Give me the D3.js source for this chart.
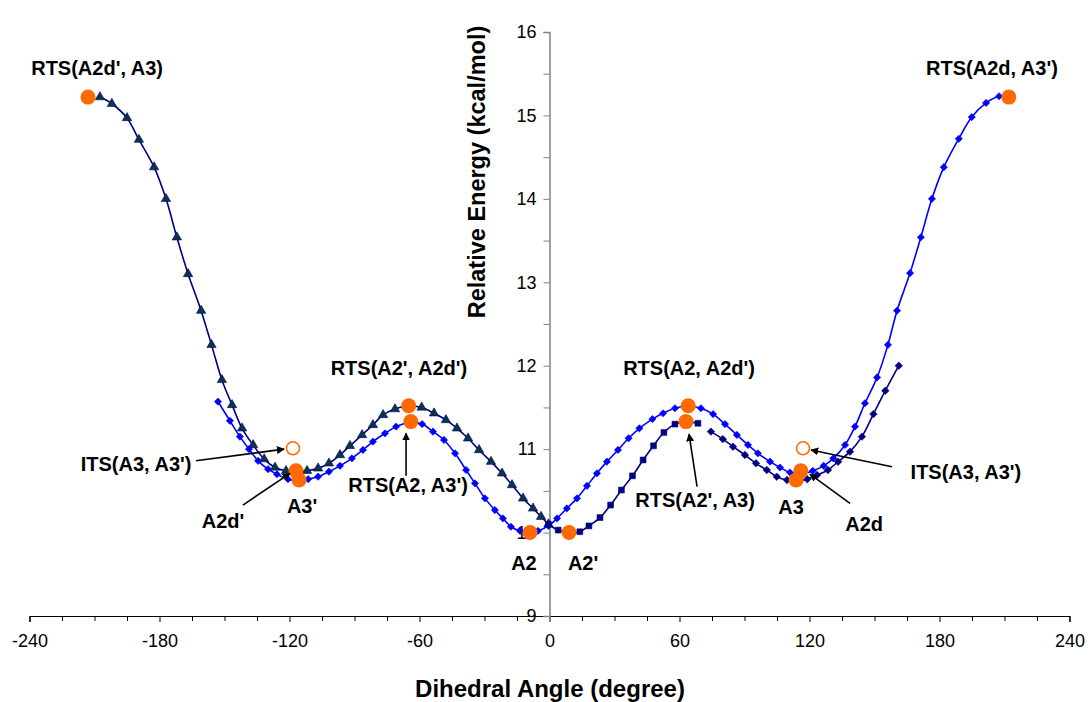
<!DOCTYPE html>
<html>
<head>
<meta charset="utf-8">
<script src="https://cdn.jsdelivr.net/npm/d3@7"></script>
<style>
  html, body { margin: 0; padding: 0; background: #fff; }
  text { font-family: Arial, "Liberation Sans", sans-serif; }
</style>
</head>
<body>
<svg id="chart" width="1090" height="702"></svg>
<script>
// ---------- data ----------
const xTicks = [-240, -180, -120, -60, 0, 60, 120, 180, 240];
const yTicks = [9, 10, 11, 12, 13, 14, 15, 16];

// Navy line, triangle markers (left branch)
const triAngles = [-207.5,-202,-195,-189.5,-182.5,-177,-172,-166.8,-160.8,-156,
  -151.2,-146.5,-141.9,-136.8,-131.7,-126.7,-121.6,-116.5,-111.9,-106.8,
  -101.8,-96.7,-92.1,-86.5,-81.5,-76.8,-71.3,-65.5,-59,-53.3,
  -47.8,-42.7,-37.6,-32.5,-27.0,-21.9,-17.3,-12.2,-7.6,-3.9,-0.5];
const triEnergies = [15.22,15.14,14.97,14.71,14.38,14.0,13.54,13.10,12.66,12.25,
  11.83,11.53,11.25,11.05,10.88,10.78,10.74,10.73,10.74,10.77,
  10.83,10.93,11.04,11.17,11.29,11.41,11.48,11.52,11.50,11.43,
  11.35,11.25,11.13,10.99,10.85,10.71,10.57,10.41,10.29,10.19,10.10];

// Blue line, diamond markers
const blueAngles = [-153,-147.5,-142.9,-138.7,-134.5,-129.9,-125.8,-120.7,-116,-111.4,
  -106.8,-101.8,-96.7,-91.2,-86.1,-81.5,-75.9,-70.8,-64.4,-58.8,
  -53.8,-48.7,-43.6,-38.5,-34.4,-29.8,-25.2,-21.5,-17.8,-13.6,
  -9,-5.3,-0.5,3.5,8,12.7,17.3,21.9,26.5,31.6,
  36.5,41.5,47.5,52.4,57.9,64,69.9,75.5,81,86.5,
  91.6,96.2,101.8,106.4,111,116,121.5,126.5,131,136.4,
  141,145.6,151.2,156.2,160.4,166.4,171.4,176.5,182,188.9,
  194.9,201.5,207.5,211.5];
const blueEnergies = [11.57,11.34,11.15,11.00,10.86,10.76,10.70,10.64,10.62,10.64,
  10.67,10.73,10.80,10.89,10.99,11.09,11.19,11.27,11.32,11.30,
  11.21,11.11,10.95,10.75,10.59,10.41,10.27,10.17,10.07,10.02,
  10.00,10.02,10.08,10.17,10.29,10.41,10.56,10.71,10.85,10.99,
  11.13,11.25,11.36,11.43,11.49,11.52,11.49,11.42,11.30,11.17,
  11.05,10.95,10.85,10.78,10.72,10.70,10.74,10.80,10.89,11.05,
  11.27,11.55,11.86,12.25,12.66,13.11,13.54,14.00,14.38,14.72,
  14.98,15.15,15.23,15.23];

// Navy line, square markers (right, first part)
const sqAngles = [-0.5,4,9,14,18.2,23.3,28.2,33.2,38.3,43.2,48,52.8,57.9,63,68.5];
const sqEnergies = [10.10,10.03,10.00,10.01,10.08,10.18,10.33,10.51,10.68,10.87,11.04,11.20,11.30,11.33,11.31];

// Navy line, diamond markers (right, second part)
const dmAngles = [74.5,80,84.7,90.2,95.3,100.3,104.9,109.6,114.5,119,123.5,128.5,133.2,138.7,144.2,149.5,155,161.2];
const dmEnergies = [11.21,11.12,11.03,10.93,10.83,10.75,10.67,10.63,10.62,10.64,10.69,10.75,10.85,10.97,11.15,11.42,11.70,12.00];

// Stationary points (orange)
const tsAngles = [-213, 212, -65, -64, 64, 63, -9, 9, -115.6, -117, 113.8, 116];
const tsEnergies = [15.22, 15.22, 11.52, 11.33, 11.52, 11.33, 10.0, 10.0, 10.63, 10.74, 10.63, 10.74];
const itsAngles = [-118.4, 117];
const itsEnergies = [11.01, 11.01];

// Labels (text, anchor angle, anchor energy)
const labelTexts = ["RTS(A2d', A3)", "RTS(A2d, A3')", "RTS(A2', A2d')", "RTS(A2, A2d')",
  "ITS(A3, A3')", "A2d'", "A3'", "RTS(A2, A3')", "RTS(A2', A3)", "A3", "A2d", "ITS(A3, A3')", "A2", "A2'"];
const labelAngles = [-208.8, 204.2, -69.5, 64.4, -190.8, -150.7, -114.2, -65.3, 67.2, 111.5, 145.2, 192.2, -11.8, 15.5];
const labelEnergies = [15.57, 15.57, 11.97, 11.97, 10.83, 10.14, 10.32, 10.57, 10.39, 10.31, 10.11, 10.73, 9.64, 9.64];

// Arrows (from -> to), in data units
const arrowFromAngles = [-163.2, -141.5, -66.2, 68.1, 138.7, 158.1];
const arrowFromEnergies = [10.86, 10.33, 10.68, 10.55, 10.35, 10.79];
const arrowToAngles = [-122.5, -119.8, -66.2, 64.4, 120.2, 120.7];
const arrowToEnergies = [11.00, 10.71, 11.19, 11.18, 10.70, 10.99];

// ---------- drawing ----------
const svg = d3.select("#chart");
const x = d3.scaleLinear().domain([-240, 240]).range([29.5, 1069.5]);
const y = d3.scaleLinear().domain([9, 16]).range([616, 32]);

const zip = (a, b) => a.map((v, i) => [v, b[i]]);
const plain = d => String(d);

// Axes
const xAxis = svg.append("g").attr("transform", `translate(0,${y(9)})`)
  .call(d3.axisBottom(x).tickValues(xTicks).tickSize(6).tickPadding(12).tickFormat(plain));
xAxis.select(".domain").attr("stroke", "#000").attr("stroke-width", 1.2);
xAxis.selectAll(".tick line").attr("stroke", "#000");
xAxis.selectAll("text").attr("font-size", 18).attr("fill", "#000");
svg.append("g").attr("transform", `translate(0,${y(9)})`)
  .call(d3.axisBottom(x).tickValues(d3.range(-240, 241, 15).filter(v => v % 60 !== 0)).tickSize(5).tickFormat(""))
  .call(g => g.select(".domain").remove())
  .selectAll(".tick line").attr("stroke", "#000");

const yAxis = svg.append("g").attr("transform", `translate(${x(0)},0)`)
  .call(d3.axisLeft(y).tickValues(yTicks).tickSize(6).tickPadding(7).tickFormat(plain));
yAxis.select(".domain").attr("stroke", "#808080").attr("stroke-width", 1.5);
yAxis.selectAll(".tick line").attr("stroke", "#808080");
yAxis.selectAll("text").attr("font-size", 18).attr("fill", "#000");
svg.append("g").attr("transform", `translate(${x(0)},0)`)
  .call(d3.axisLeft(y).tickValues(d3.range(9.5, 16, 1)).tickSize(6).tickFormat(""))
  .call(g => g.select(".domain").remove())
  .selectAll(".tick line").attr("stroke", "#808080");

// Axis titles
svg.append("text").attr("x", 550).attr("y", 697).attr("text-anchor", "middle")
  .attr("font-size", 24).attr("font-weight", "bold").text("Dihedral Angle (degree)");
svg.append("text").attr("transform", "translate(485,172) rotate(-90)").attr("text-anchor", "middle")
  .attr("font-size", 23.5).attr("font-weight", "bold").text("Relative Energy (kcal/mol)");

// Lines
const line = d3.line().x(d => x(d[0])).y(d => y(d[1])).curve(d3.curveCatmullRom.alpha(0.5));
const series = [
  { pts: zip(triAngles, triEnergies), stroke: "#000080", sym: d3.symbolTriangle, size: 38, fill: "#0c3544", rot: 0 },
  { pts: zip(blueAngles, blueEnergies), stroke: "#0000FF", sym: d3.symbolSquare, size: 26, fill: "#0000FF", rot: 45 },
  { pts: zip(sqAngles, sqEnergies), stroke: "#000080", sym: d3.symbolSquare, size: 34, fill: "#000080", rot: 0 },
  { pts: zip(dmAngles, dmEnergies), stroke: "#000080", sym: d3.symbolSquare, size: 28, fill: "#000080", rot: 45 }
];
series.forEach(s => {
  svg.append("path").datum(s.pts).attr("fill", "none").attr("stroke", s.stroke)
    .attr("stroke-width", 1.6).attr("d", line);
});
series.forEach(s => {
  svg.append("g").selectAll("path").data(s.pts).join("path")
    .attr("d", d3.symbol().type(s.sym).size(s.size))
    .attr("transform", d => `translate(${x(d[0])},${y(d[1])}) rotate(${s.rot})`)
    .attr("fill", s.fill).attr("stroke", s.stroke).attr("stroke-width", 0.6);
});

// Orange points
svg.append("g").selectAll("circle").data(zip(tsAngles, tsEnergies)).join("circle")
  .attr("cx", d => x(d[0])).attr("cy", d => y(d[1])).attr("r", 7.5).attr("fill", "#FF6A00");
svg.append("g").selectAll("circle").data(zip(itsAngles, itsEnergies)).join("circle")
  .attr("cx", d => x(d[0])).attr("cy", d => y(d[1])).attr("r", 6.5)
  .attr("fill", "#fff").attr("stroke", "#FF6A00").attr("stroke-width", 1.5);

// Arrows
const defs = svg.append("defs");
defs.append("marker").attr("id", "arr").attr("viewBox", "0 0 10 10").attr("refX", 9).attr("refY", 5)
  .attr("markerWidth", 8).attr("markerHeight", 8).attr("markerUnits", "userSpaceOnUse").attr("orient", "auto")
  .append("path").attr("d", "M0,0 L10,5 L0,10 Z").attr("fill", "#000");
svg.append("g").selectAll("line").data(arrowFromAngles.map((a, i) => i)).join("line")
  .attr("x1", i => x(arrowFromAngles[i])).attr("y1", i => y(arrowFromEnergies[i]))
  .attr("x2", i => x(arrowToAngles[i])).attr("y2", i => y(arrowToEnergies[i]))
  .attr("stroke", "#000").attr("stroke-width", 1.6).attr("marker-end", "url(#arr)");

// Labels
svg.append("g").selectAll("text").data(labelTexts.map((t, i) => i)).join("text")
  .attr("x", i => x(labelAngles[i])).attr("y", i => y(labelEnergies[i]))
  .attr("dy", "0.36em").attr("text-anchor", "middle")
  .attr("font-size", 20).attr("font-weight", "bold").attr("fill", "#000")
  .text(i => labelTexts[i]);
</script>
</body>
</html>
